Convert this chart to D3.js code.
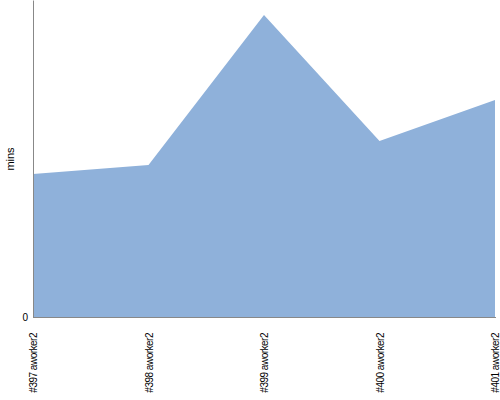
<!DOCTYPE html>
<html><head><meta charset="utf-8">
<script src="https://cdn.jsdelivr.net/npm/d3@7"></script>
<style>body{margin:0;background:#fff}svg{display:block}text{font-family:"Liberation Sans",Arial,sans-serif}</style>
</head><body>
<svg id="c" width="500" height="400"></svg>
<script>
const categories = ["#397 aworker2","#398 aworker2","#399 aworker2","#400 aworker2","#401 aworker2"];
const values = [143, 152, 302, 176, 217];
const yTicks = [0];

const svg = d3.select("#c");
const m = {l:33, r:5, t:0, b:83};
const W = 500, H = 400;
const x = d3.scalePoint().domain(categories).range([m.l, W - m.r]);
const y = d3.scaleLinear().domain([0, 317]).range([H - m.b, m.t]);

const area = d3.area().x(d => x(d.c)).y0(y(0)).y1(d => y(d.v));
const data = categories.map((c,i) => ({c, v: values[i]}));
svg.append("path").datum(data).attr("d", area).attr("fill", "#8fb1da");

const yAxis = svg.append("g").attr("transform", `translate(${m.l},0)`)
  .call(d3.axisLeft(y).tickValues(yTicks).tickSize(0).tickPadding(5));
yAxis.select(".domain").attr("stroke", "#888");
yAxis.selectAll("text").attr("font-size", 10).attr("fill", "#000");

const xAxis = svg.append("g").attr("transform", `translate(0,${H - m.b})`)
  .call(d3.axisBottom(x).tickSize(0).tickPadding(0));
xAxis.select(".domain").attr("stroke", "#888").attr("d", `M${m.l},0.5H${W - 4}`);
xAxis.selectAll("text")
  .attr("font-size", 10).attr("fill", "#000")
  .attr("transform", "rotate(-90)")
  .attr("text-anchor", "end")
  .attr("x", -16).attr("y", 0).attr("dy", "0.35em")
  .style("letter-spacing", "-0.5px");

svg.append("text").attr("transform", "translate(14,159) rotate(-90)")
  .attr("text-anchor", "middle").attr("font-size", 11).text("mins");
</script>
</body></html>
